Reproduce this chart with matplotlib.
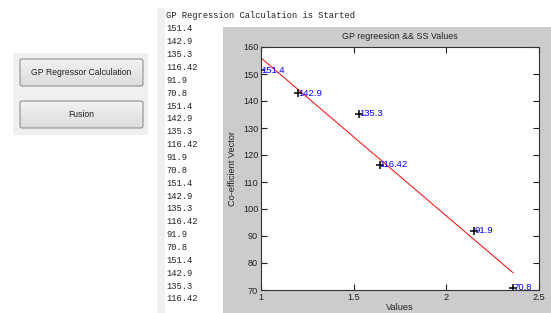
import matplotlib.pyplot as plt
import numpy as np
from matplotlib.patches import Rectangle, FancyBboxPatch

values = [1.0, 1.2, 1.53, 1.64, 2.15, 2.36]
coeffs = [151.4, 142.9, 135.3, 116.42, 91.9, 70.8]
labels = ['151.4', '142.9', '135.3', '116.42', '91.9', '70.8']
log_lines = ['GP Regression Calculation is Started'] + labels * 3 + labels[:4]
buttons = ['GP Regressor Calculation', 'Fusion']

W, H = 551, 313
narrow = ['Liberation Sans Narrow', 'Liberation Sans', 'DejaVu Sans']

fig = plt.figure(figsize=(W / 100, H / 100), dpi=100)
fig.patch.set_facecolor('white')

# background "GUI" layer in pixel coordinates
bg = fig.add_axes([0, 0, 1, 1], zorder=0)
bg.set_xlim(0, W)
bg.set_ylim(H, 0)
bg.axis('off')

bg.add_patch(Rectangle((222.5, 27), W - 222.5, H - 27, facecolor='#cccccc', edgecolor='none'))
bg.add_patch(Rectangle((157, 8), 8, H - 8, facecolor='#f0f0f0', edgecolor='none'))
bg.add_patch(Rectangle((13, 53), 135, 82, facecolor='#f0f0f0', edgecolor='none'))

grad = np.linspace(0.95, 0.86, 50).reshape(-1, 1)
for i, name in enumerate(buttons):
    top = 59 + i * 42
    box = FancyBboxPatch((20, top), 123, 27, boxstyle='round,pad=0,rounding_size=2',
                         facecolor='none', edgecolor='#8f8f8f', linewidth=0.8, zorder=3)
    bg.add_patch(box)
    im = bg.imshow(grad, cmap='gray', vmin=0, vmax=1, extent=(20, 143, top + 27, top),
                   aspect='auto', zorder=2)
    im.set_clip_path(box)
    bg.text(81.5, top + 13.5, name, ha='center', va='center', fontsize=6.2,
            family=narrow, color='#222222', zorder=4)
bg.set_xlim(0, W)
bg.set_ylim(H, 0)

for i, line in enumerate(log_lines):
    bg.text(166, 16 + i * 12.86, line, ha='left', va='center', fontsize=6.3,
            family=['Liberation Mono', 'DejaVu Sans Mono'], color='#222222')

# the plot
ax = fig.add_axes([261 / W, (H - 290) / H, (539 - 261) / W, (290 - 47) / H], zorder=1)
ax.set_facecolor('white')

fit = np.polyfit(values, coeffs, 1)
xs = np.array([min(values), max(values)])
ax.plot(xs, np.polyval(fit, xs), color='red', linewidth=0.7)
ax.plot(values, coeffs, linestyle='none', marker='+', color='black', markersize=6, markeredgewidth=1.1)
for x, y, s in zip(values, coeffs, labels):
    ax.text(x, y, s, color='#0000ff', fontsize=6.8, family=narrow, ha='left', va='center')

ax.set_xlim(1, 2.5)
ax.set_ylim(70, 160)
ax.set_xticks([1, 1.5, 2, 2.5])
ax.set_xticklabels(['1', '1.5', '2', '2.5'])
ax.set_yticks(range(70, 161, 10))
ax.tick_params(direction='in', length=4, width=0.8, top=True, right=True,
               labelsize=6.6, colors='#222222', pad=2)
for lab in ax.get_xticklabels() + ax.get_yticklabels():
    lab.set_family(narrow)
for sp in ax.spines.values():
    sp.set_linewidth(0.8)
    sp.set_color('#333333')

ax.set_title('GP regreesion && SS Values', fontsize=6.4, family=narrow, color='#222222', pad=6)
ax.set_ylabel('Co-efficient Vector', fontsize=6.6, family=narrow, color='#222222', labelpad=4)
ax.set_xlabel('Values', fontsize=6.6, family=narrow, color='#222222', labelpad=1)

fig.savefig('out.png', dpi=100)
